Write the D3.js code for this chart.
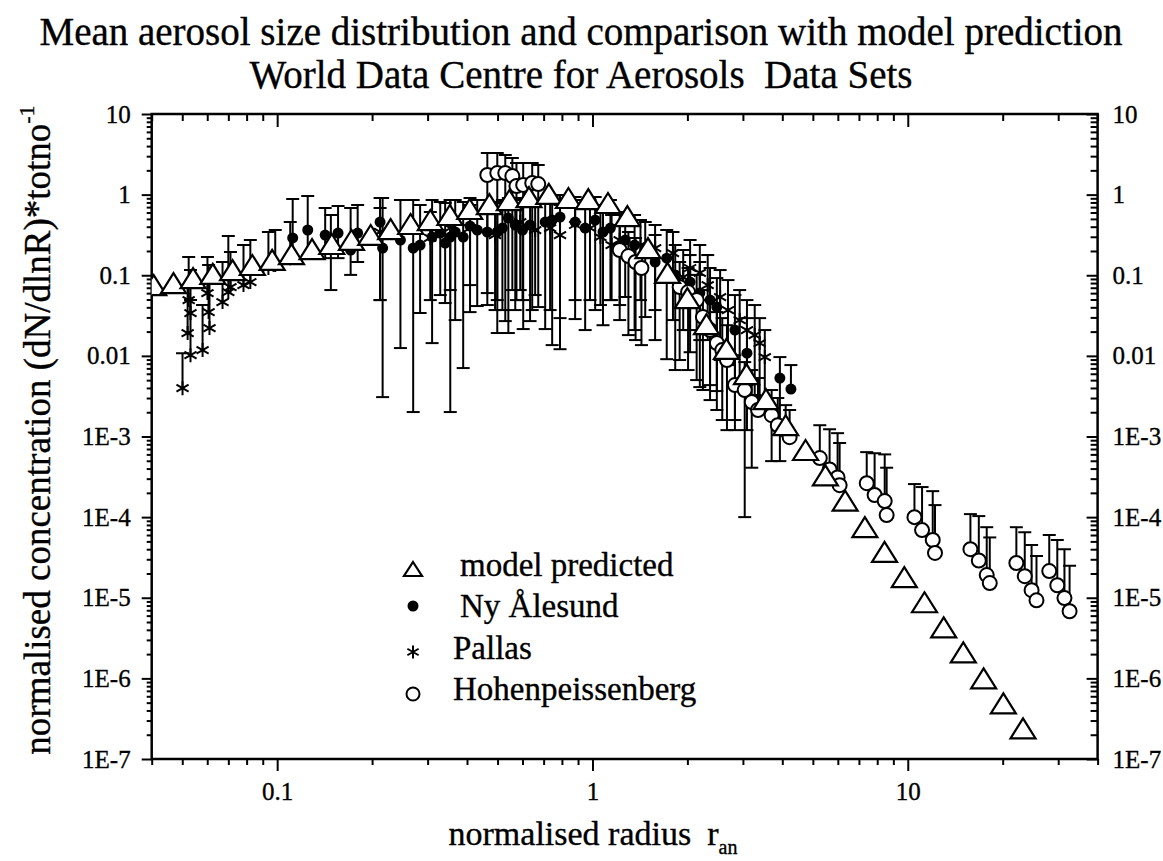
<!DOCTYPE html>
<html>
<head>
<meta charset="utf-8">
<title>Mean aerosol size distribution</title>
<script src="https://cdn.jsdelivr.net/npm/d3@7"></script>
<style>
  body { margin: 0; background: #fff; }
  svg text {
    font-family: "Liberation Serif", "Times New Roman", serif;
    fill: #000;
    stroke: #000;
    stroke-width: 0.35px;
  }
</style>
</head>
<body>
<svg id="chart" width="1163" height="861"></svg>
<script>
"use strict";

// model predicted (normalised radius, normalised concentration)
const modelR = [0.0406, 0.0469, 0.0541, 0.0625, 0.0722, 0.0834, 0.0964, 0.111, 0.129, 0.149,
    0.172, 0.198, 0.229, 0.265, 0.306, 0.353, 0.408, 0.471, 0.545, 0.629,
    0.727, 0.839, 0.970, 1.12, 1.29, 1.50, 1.73, 2.00, 2.30, 2.66,
    3.08, 3.55, 4.10, 4.74, 5.48, 6.33, 7.31, 8.44, 9.75, 11.3,
    13.0, 15.0, 17.4, 20.1, 23.2];
const modelN = [0.0755, 0.080, 0.092, 0.104, 0.116, 0.134, 0.155, 0.183, 0.211, 0.244,
    0.274, 0.316, 0.374, 0.432, 0.484, 0.559, 0.663, 0.764, 0.857, 0.933,
    1.02, 0.908, 0.881, 0.787, 0.542, 0.217, 0.107, 0.0521, 0.0248, 0.0122,
    0.00594, 0.00291, 0.00138, 6.8e-4, 3.3e-4, 1.6e-4, 7.5e-5, 3.7e-5, 1.8e-5, 8.8e-6,
    4.3e-6, 2.1e-6, 1.0e-6, 4.9e-7, 2.4e-7];

// Ny Alesund: mean, upper and lower end of error bar (null = no lower bar)
const nyR = [0.112, 0.125, 0.142, 0.156, 0.171, 0.180, 0.212, 0.216, 0.270, 0.310,
    0.341, 0.354, 0.389, 0.431, 0.464, 0.499, 0.541, 0.569, 0.634, 0.708,
    0.789, 0.881, 1.02, 1.14, 1.27, 1.47, 1.72, 2.04, 2.19, 2.48,
    3.09, 3.93, 4.26,
    0.246, 0.284, 0.329, 0.367, 0.409, 0.518, 0.600, 0.745, 0.948, 1.08,
    1.36, 1.58, 1.83, 2.36, 2.83];
const nyN = [0.290, 0.364, 0.315, 0.334, 0.205, 0.334, 0.457, 0.217, 0.217, 0.298,
    0.251, 0.298, 0.298, 0.364, 0.344, 0.344, 0.512, 0.420, 0.420, 0.457,
    0.527, 0.457, 0.484, 0.385, 0.273, 0.205, 0.163, 0.0824, 0.0601, 0.0403,
    0.0108, 0.00531, 0.00387,
    0.273, 0.237, 0.334, 0.344, 0.408, 0.385, 0.364, 0.484, 0.385, 0.344,
    0.237, 0.146, 0.101, 0.0492, 0.0209];
const nyHi = [0.88, 0.96, 0.682, 0.723, 0.682, 0.743, 0.908, 0.908, 0.857, 0.857,
    0.787, 0.857, 0.809, 0.857, 0.857, 0.809, 0.908, 0.908, 0.857, 0.908,
    0.989, 0.934, 0.934, 0.857, 0.608, 0.457, 0.364, 0.178, 0.146, 0.0923,
    0.0294, 0.00966, 0.00769,
    0.857, 0.743, 0.809, 0.857, 0.908, 0.857, 0.857, 0.96, 0.857, 0.743,
    0.558, 0.315, 0.237, 0.123, 0.0568];
const nyLo = [0.146, 0.178, 0.163, 0.163, 0.101, 0.146, 0.0492, 0.00308, 0.00201, 0.0144,
    0.0452, 0.00201, 0.00706, 0.0415, 0.0601, 0.0492, 0.0192, 0.037, 0.027, 0.0215,
    0.0121, 0.0286, 0.037, 0.0492, 0.0537, 0.0303, 0.0091, 0.0111, 0.0041, 0.00366,
    0.0012, 4.95e-4, null,
    0.0125, 0.034, 0.0568, 0.0278, 0.0755, 0.037, 0.0492, 0.0136, 0.0209, 0.024,
    0.0209, 0.0157, 0.00667, 0.00434, 0.0016];

// Pallas
const paR = [0.0501, 0.0520, 0.0524, 0.0531, 0.0531, 0.0580, 0.0601, 0.0606, 0.0610, 0.0671,
    0.0700, 0.0711, 0.0782, 0.0822, 0.0938, 0.0986, 0.110, 0.306, 0.409, 0.590,
    0.734, 0.881, 1.06, 1.22, 1.42, 1.80, 1.94, 2.19, 2.54, 2.93,
    3.09, 3.39, 3.52,
    0.148, 0.212, 0.354, 0.491, 0.658, 0.789, 0.982, 1.15, 1.58, 2.04,
    2.32, 2.69, 3.27];
const paN = [0.00398, 0.0192, 0.0492, 0.034, 0.0102, 0.0118, 0.0601, 0.0349, 0.0221, 0.0465,
    0.0619, 0.0714, 0.0755, 0.0824, 0.123, 0.134, 0.163, 0.290, 0.385, 0.457,
    0.385, 0.420, 0.298, 0.273, 0.237, 0.188, 0.095, 0.107, 0.0537, 0.0278,
    0.0209, 0.0144, 0.00966,
    0.237, 0.344, 0.385, 0.315, 0.364, 0.315, 0.385, 0.237, 0.217, 0.123,
    0.0755, 0.037, 0.0181];
const paHi = [0.0108, 0.0755, 0.168, 0.116, 0.0492, 0.0427, 0.168, 0.134, 0.0824, 0.146,
    0.307, 0.194, 0.237, 0.273, 0.344, 0.364, 0.457, 0.608, 0.743, 0.857,
    0.787, 0.857, 0.644, 0.558, 0.484, 0.344, 0.205, 0.237, 0.116, 0.0655,
    0.0492, 0.0294, 0.0209,
    0.558, 0.682, 0.857, 0.787, 0.857, 0.743, 0.857, 0.558, 0.420, 0.273,
    0.178, 0.0871, 0.0427];
const paLo = [null, null, null, null, null, null, null, null, null, null,
    null, null, null, null, null, null, null, 0.0492, 0.0349, 0.0655,
    0.037, 0.0492, 0.0427, 0.0427, 0.0492, 0.0278, 0.0209, 0.0157, 0.00888, 0.00501,
    0.00434, 0.00283, 0.00213,
    0.0655, 0.0492, 0.0655, 0.037, 0.0568, 0.0294, 0.0492, 0.0492, 0.037, 0.0209,
    0.0157, 0.00769, 0.00327];

// Hohenpeissenberg
const hoR = [0.464, 0.499, 0.529, 0.557, 0.574, 0.603, 0.644, 0.673, 1.22, 1.30,
    1.37, 1.43, 1.89, 2.01, 2.14, 2.24, 2.36, 2.48, 2.58, 2.67,
    2.83, 3.04, 3.20, 3.35, 3.70, 3.87, 4.10, 4.22, 5.26, 5.65,
    5.99, 6.08, 7.41, 7.85, 8.45, 8.57, 10.5, 11.1, 12.0, 12.2,
    15.8, 16.8, 17.8, 18.2, 22.1, 23.5, 24.7, 25.6, 28.1, 29.8,
    31.4, 32.6];
const hoN = [1.75, 1.85, 1.85, 1.70, 1.28, 1.32, 1.39, 1.35, 0.205, 0.173,
    0.146, 0.123, 0.0714, 0.0619, 0.0492, 0.0303, 0.0209, 0.0144, 0.0118, 0.00888,
    0.00434, 0.00377, 0.00267, 0.00213, 0.00184, 0.00138, 0.0012, 9.8e-4, 5.4e-4, 3.9e-4,
    3.1e-4, 2.49e-4, 2.64e-4, 1.88e-4, 1.58e-4, 1.06e-4, 1.0e-4, 6.9e-5, 5.2e-5, 3.6e-5,
    4.0e-5, 2.9e-5, 1.91e-5, 1.52e-5, 2.7e-5, 1.85e-5, 1.24e-5, 9.3e-6, 2.14e-5, 1.43e-5,
    9.9e-6, 6.8e-6];
const hoHi = [3.28, 3.28, 3.10, 2.84, 2.47, 2.47, 2.47, 2.33, 0.420, 0.344,
    0.290, 0.237, 0.146, 0.123, 0.101, 0.0655, 0.0492, 0.0349, 0.0294, 0.024,
    0.0102, 0.00837, 0.00667, 0.00531, 0.00377, 0.003, 0.00245, 0.00213, 0.00138, 0.00123,
    0.0011, 8.3e-4, 6.4e-4, 6.2e-4, 6.0e-4, 4.1e-4, 2.57e-4, 2.36e-4, 2.10e-4, 1.41e-4,
    1.09e-4, 1.03e-4, 7.5e-5, 5.6e-5, 7.5e-5, 6.5e-5, 4.5e-5, 3.3e-5, 6.0e-5, 5.2e-5,
    4.0e-5, 2.5e-5];
const hoLo = [0.0427, 0.0192, 0.027, 0.0655, 0.0492, 0.0215, 0.037, 0.0403, 0.0278, 0.0181,
    0.0157, 0.0136, 0.00888, 0.00667, 0.00501, 0.00377, 0.00283, 0.00213, 0.0016, 0.0012,
    0.0012, 1.0e-4, 4.1e-4, null, 4.95e-4, null, null, null, null, null,
    null, null, null, null, null, null, null, null, null, null,
    null, null, null, null, null, null, null, null, null, null,
    null, null];

const legendLabels = ["model predicted", "Ny \u00C5lesund", "Pallas", "Hohenpeissenberg"];
const xTickLabels = [0.1, 1, 10];

// layout
const width = 1163;
const height = 861;
const plot = { left: 151.7, right: 1097.6, top: 114, bottom: 759 };

const svg = d3.select("#chart");
svg.append("rect").attr("width", width).attr("height", height).attr("fill", "#fff");

const x = d3.scaleLog().domain([0.04, 40]).range([plot.left, plot.right]);
const y = d3.scaleLog().domain([1e-7, 10]).range([plot.bottom, plot.top]);

// 1..9 x 10^n ticks inside a domain
function logTicks(domain) {
    const out = [];
    const e0 = Math.floor(Math.log10(domain[0]));
    const e1 = Math.ceil(Math.log10(domain[1]));
    for (let e = e0; e <= e1; e++) {
        for (let m = 1; m < 10; m++) {
            const v = +(m * Math.pow(10, e)).toPrecision(3);
            if (v >= domain[0] * 0.999 && v <= domain[1] * 1.001) out.push(v);
        }
    }
    return out;
}
const isMajor = v => Math.abs(Math.log10(v) - Math.round(Math.log10(v))) < 1e-6;

const xFmt = v => xTickLabels.some(t => Math.abs(t - v) < 1e-9) ? d3.format("~g")(v) : "";
const yFmt = v => !isMajor(v) ? "" : (v >= 0.01 ? d3.format("~g")(v) : "1E" + Math.round(Math.log10(v)));

const xTicks = logTicks(x.domain());
const yTicks = logTicks(y.domain());

function finishAxis(g, attr, major, minor) {
    g.select(".domain").remove();
    g.selectAll(".tick line")
        .attr(attr, d => isMajor(d) ? major : minor)
        .attr("stroke", "#000")
        .attr("stroke-width", 2);
    g.selectAll(".tick text").style("font-size", "25px");
}

// bottom
svg.append("g")
    .attr("transform", `translate(0,${plot.bottom})`)
    .call(d3.axisBottom(x).tickValues(xTicks).tickFormat(xFmt).tickSize(12).tickSizeOuter(0).tickPadding(11))
    .call(g => finishAxis(g, "y2", 12, 6));

// top (ticks pointing down into the plot)
svg.append("g")
    .attr("transform", `translate(0,${plot.top})`)
    .call(d3.axisBottom(x).tickValues(xTicks).tickFormat("").tickSize(12).tickSizeOuter(0))
    .call(g => finishAxis(g, "y2", 13, 7));

// left
svg.append("g")
    .attr("transform", `translate(${plot.left},0)`)
    .call(d3.axisLeft(y).tickValues(yTicks).tickFormat(yFmt).tickSize(10).tickSizeOuter(0).tickPadding(11))
    .call(g => finishAxis(g, "x2", -10, -5));

// right (ticks pointing left, labels on the outside)
svg.append("g")
    .attr("transform", `translate(${plot.right},0)`)
    .call(d3.axisRight(y).tickValues(yTicks).tickFormat(yFmt).tickSize(-11).tickSizeOuter(0).tickPadding(15))
    .call(g => finishAxis(g, "x2", -11, -7));

svg.selectAll(".tick text").attr("fill", "#000");

// frame
svg.append("rect")
    .attr("x", plot.left).attr("y", plot.top)
    .attr("width", plot.right - plot.left).attr("height", plot.bottom - plot.top)
    .attr("fill", "none").attr("stroke", "#000").attr("stroke-width", 2.5);

// data
svg.append("clipPath").attr("id", "plotClip")
    .append("rect")
    .attr("x", plot.left).attr("y", plot.top)
    .attr("width", plot.right - plot.left).attr("height", plot.bottom - plot.top);

const data = svg.append("g").attr("clip-path", "url(#plotClip)");

function points(rs, ns, his, los) {
    return rs.map((r, i) => ({ r: r, n: ns[i], hi: his ? his[i] : null, lo: los ? los[i] : null }));
}
const nyPts = points(nyR, nyN, nyHi, nyLo);
const paPts = points(paR, paN, paHi, paLo);
const hoPts = points(hoR, hoN, hoHi, hoLo);
const modelPts = points(modelR, modelN);

const capHalf = 6.5;
function drawErrorBars(pts) {
    const gb = data.append("g").attr("stroke", "#000").attr("stroke-width", 2);
    gb.selectAll(null).data(pts).enter().append("line")
        .attr("x1", d => x(d.r)).attr("x2", d => x(d.r))
        .attr("y1", d => y(d.hi))
        .attr("y2", d => y(d.lo == null ? d.n : d.lo));
    gb.selectAll(null).data(pts).enter().append("line")
        .attr("x1", d => x(d.r) - capHalf).attr("x2", d => x(d.r) + capHalf)
        .attr("y1", d => y(d.hi)).attr("y2", d => y(d.hi));
    gb.selectAll(null).data(pts.filter(d => d.lo != null)).enter().append("line")
        .attr("x1", d => x(d.r) - capHalf).attr("x2", d => x(d.r) + capHalf)
        .attr("y1", d => y(d.lo)).attr("y2", d => y(d.lo));
}

// symbol shapes
function trianglePath(w, h) {
    return `M0,${-h / 2}L${w / 2},${h / 2}L${-w / 2},${h / 2}Z`;
}
function asteriskPath(r) {
    const a = Math.PI / 6;
    const dx = r * Math.cos(a), dy = r * Math.sin(a);
    return `M0,${-r}V${r}M${-dx},${-dy}L${dx},${dy}M${-dx},${dy}L${dx},${-dy}`;
}

drawErrorBars(nyPts);
drawErrorBars(paPts);
drawErrorBars(hoPts);

data.append("g").selectAll("circle").data(nyPts).enter().append("circle")
    .attr("cx", d => x(d.r)).attr("cy", d => y(d.n)).attr("r", 5.5)
    .attr("fill", "#000");

data.append("g").selectAll("path").data(paPts).enter().append("path")
    .attr("transform", d => `translate(${x(d.r)},${y(d.n)})`)
    .attr("d", asteriskPath(7))
    .attr("fill", "none").attr("stroke", "#000").attr("stroke-width", 2);

data.append("g").selectAll("circle").data(hoPts).enter().append("circle")
    .attr("cx", d => x(d.r)).attr("cy", d => y(d.n)).attr("r", 7)
    .attr("fill", "#fff").attr("stroke", "#000").attr("stroke-width", 2);

data.append("g").selectAll("path").data(modelPts).enter().append("path")
    .attr("transform", d => `translate(${x(d.r)},${y(d.n)})`)
    .attr("d", trianglePath(25, 20))
    .attr("fill", "#fff").attr("stroke", "#000").attr("stroke-width", 2.2)
    .attr("stroke-linejoin", "miter");

// legend
const legend = svg.append("g");
const legendRows = [
    { y: 569, tx: 460, ty: 576 },
    { y: 606, tx: 460, ty: 617 },
    { y: 652, tx: 453, ty: 659 },
    { y: 694, tx: 453, ty: 700 }
];
legend.append("path").attr("transform", `translate(413,${legendRows[0].y})`)
    .attr("d", trianglePath(18, 14)).attr("fill", "#fff").attr("stroke", "#000").attr("stroke-width", 2.2);
legend.append("circle").attr("cx", 413).attr("cy", legendRows[1].y).attr("r", 5.5).attr("fill", "#000");
legend.append("path").attr("transform", `translate(413,${legendRows[2].y})`)
    .attr("d", asteriskPath(6.5)).attr("fill", "none").attr("stroke", "#000").attr("stroke-width", 2);
legend.append("circle").attr("cx", 413).attr("cy", legendRows[3].y).attr("r", 6.5)
    .attr("fill", "#fff").attr("stroke", "#000").attr("stroke-width", 2);
legend.selectAll("text").data(legendLabels).enter().append("text")
    .attr("x", (d, i) => legendRows[i].tx)
    .attr("y", (d, i) => legendRows[i].ty)
    .style("font-size", "33px")
    .text(d => d);

// titles
svg.append("text").attr("x", 581).attr("y", 45).attr("text-anchor", "middle")
    .style("font-size", "39px")
    .text("Mean aerosol size distribution and comparison with model prediction");
svg.append("text").attr("x", 581).attr("y", 88).attr("text-anchor", "middle")
    .style("font-size", "39px")
    .text("World Data Centre for Aerosols \u00A0Data Sets");

// y axis label
const yLab = svg.append("text")
    .attr("transform", "translate(50,430) rotate(-90)")
    .attr("text-anchor", "middle")
    .style("font-size", "37px");
yLab.append("tspan").text("normalised concentration (dN/dlnR)*totno");
yLab.append("tspan").attr("dy", -16).style("font-size", "22px").text("-1");

// x axis label
const xLab = svg.append("text")
    .attr("x", 593).attr("y", 845)
    .attr("text-anchor", "middle")
    .style("font-size", "34px");
xLab.append("tspan").text("normalised radius");
xLab.append("tspan").attr("dx", 16).text("r");
xLab.append("tspan").attr("dy", 9).style("font-size", "20px").text("an");
</script>
</body>
</html>
